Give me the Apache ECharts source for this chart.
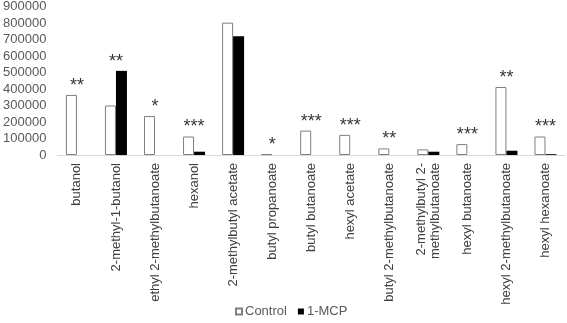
<!DOCTYPE html>
<html>
<head>
<meta charset="utf-8">
<script src="https://cdn.jsdelivr.net/npm/echarts@6/dist/echarts.min.js"></script>
<style>
  html, body { margin: 0; padding: 0; background: #fff; }
  #chart { width: 567px; height: 323px; }
</style>
</head>
<body>
<div id="chart"></div>
<script>
// compounds on the x axis
const categories = [
    'butanol', '2-methyl-1-butanol', 'ethyl 2-methylbutanoate', 'hexanol',
    '2-methylbutyl acetate', 'butyl propanoate', 'butyl butanoate', 'hexyl acetate',
    'butyl 2-methylbutanoate', '2-methylbutyl 2-\nmethylbutanoate', 'hexyl butanoate',
    'hexyl 2-methylbutanoate', 'hexyl hexanoate'
];
const controlValues = [364000, 300000, 236000, 112000, 802000, 5000, 148000, 122000, 40000, 34000, 66000, 412000, 112000];
const mcpValues = [0, 510000, 0, 20000, 720000, 0, 0, 0, 0, 20000, 0, 26000, 5000];
const stars = ['**', '**', '*', '***', '', '*', '***', '***', '**', '', '***', '**', '***'];
const yTicks = [0, 100000, 200000, 300000, 400000, 500000, 600000, 700000, 800000, 900000];

const chartDom = document.getElementById('chart');
const chart = echarts.init(chartDom);

// stars sit above the taller bar of each pair
const starData = categories.map((c, i) => ({
    value: Math.max(controlValues[i], mcpValues[i]),
    label: { formatter: stars[i] }
}));

const option = {
    animation: false,
    textStyle: { fontFamily: 'Liberation Sans, Arial, sans-serif' },
    grid: { left: 54.5, right: 2, top: 5, bottom: 168 },
    legend: {
        data: [
            { name: 'Control', icon: 'rect' },
            { name: '1-MCP', icon: 'rect' }
        ],
        bottom: 0,
        left: 230,
        itemWidth: 6,
        itemHeight: 6,
        itemGap: 11,
        textStyle: { color: '#595959', fontSize: 13, padding: [0, 0, 0, -2] }
    },
    xAxis: {
        type: 'category',
        data: categories,
        axisLine: { lineStyle: { color: '#d9d9d9' } },
        axisTick: { show: false },
        axisLabel: {
            interval: 0,
            rotate: 90,
            margin: 8,
            color: '#404040',
            fontSize: 13,
            lineHeight: 14
        }
    },
    yAxis: {
        type: 'value',
        min: 0,
        max: yTicks[yTicks.length - 1],
        interval: 100000,
        splitLine: { show: false },
        axisLine: { show: false },
        axisTick: { show: false },
        axisLabel: { color: '#595959', fontSize: 13, margin: 11, formatter: v => String(v) }
    },
    series: [
        {
            name: 'Control',
            type: 'bar',
            data: controlValues,
            barWidth: 11,
            barGap: '0%',
            itemStyle: { color: '#ffffff', borderColor: '#7f7f7f', borderWidth: 1 }
        },
        {
            name: '1-MCP',
            type: 'bar',
            data: mcpValues,
            barWidth: 11,
            itemStyle: { color: '#000000' }
        },
        {
            name: 'sig',
            type: 'scatter',
            data: starData,
            symbolSize: 0,
            silent: true,
            label: {
                show: true,
                position: 'top',
                distance: 0,
                color: '#000',
                fontSize: 18
            }
        }
    ]
};
chart.setOption(option);
window.addEventListener('resize', () => chart.resize());
</script>
</body>
</html>
